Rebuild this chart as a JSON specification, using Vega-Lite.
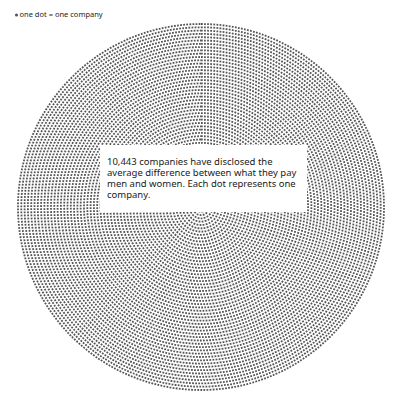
{
  "$schema": "https://vega.github.io/schema/vega-lite/v6.json",
  "width": 398,
  "height": 386,
  "autosize": "none",
  "padding": {"left": 2, "top": 14, "right": 0, "bottom": 0},
  "background": "white",
  "config": {"view": {"stroke": null}},
  "layer": [
    {
      "data": {"values": [
        {"r": 183.0}, {"r": 179.7}, {"r": 176.4}, {"r": 173.1}, {"r": 169.8}, {"r": 166.5}, {"r": 163.2}, {"r": 159.9},
        {"r": 156.6}, {"r": 153.3}, {"r": 150.0}, {"r": 146.7}, {"r": 143.4}, {"r": 140.1}, {"r": 136.8}, {"r": 133.5},
        {"r": 130.2}, {"r": 126.9}, {"r": 123.6}, {"r": 120.3}, {"r": 117.0}, {"r": 113.7}, {"r": 110.4}, {"r": 107.1},
        {"r": 103.8}, {"r": 100.5}, {"r": 97.2}, {"r": 93.9}, {"r": 90.6}, {"r": 87.3}, {"r": 84.0}, {"r": 80.7},
        {"r": 77.4}, {"r": 74.1}, {"r": 70.8}, {"r": 67.5}, {"r": 64.2}, {"r": 60.9}, {"r": 57.6}, {"r": 54.3},
        {"r": 51.0}, {"r": 47.7}, {"r": 44.4}, {"r": 41.1}, {"r": 37.8}, {"r": 34.5}, {"r": 31.2}, {"r": 27.9},
        {"r": 24.6}, {"r": 21.3}, {"r": 18.0}, {"r": 14.7}, {"r": 11.4}, {"r": 8.1}, {"r": 4.8}, {"r": 1.5}
      ]},
      "mark": {"type": "arc", "theta": 0, "theta2": 6.2832, "filled": false, "fill": null, "stroke": "#555555", "strokeWidth": 1.8, "strokeDash": [1.8, 1.3], "strokeCap": "butt"},
      "encoding": {
        "radius": {"field": "r", "type": "quantitative", "stack": null, "scale": {"type": "linear", "zero": true, "domain": [0, 183], "range": [0, 183]}}
      }
    },
    {
      "data": {"values": [{"x1": -101, "x2": 106, "y1": 62, "y2": -5}]},
      "mark": {"type": "rect", "fill": "white"},
      "encoding": {
        "x": {"field": "x1", "type": "quantitative", "scale": {"domain": [-199, 199], "nice": false, "zero": false}, "axis": null},
        "x2": {"field": "x2"},
        "y": {"field": "y1", "type": "quantitative", "scale": {"domain": [-193, 193], "nice": false, "zero": false}, "axis": null},
        "y2": {"field": "y2"}
      }
    },
    {
      "data": {"values": [
        {"x": -94, "y": 45.5, "t": ["10,443 companies have disclosed the", "average difference between what they pay", "men and women. Each dot represents one", "company."]}
      ]},
      "mark": {"type": "text", "align": "left", "baseline": "middle", "fontSize": 9.5, "lineHeight": 11, "font": "Noto Sans", "color": "#1a1a1a"},
      "encoding": {
        "x": {"field": "x", "type": "quantitative", "scale": {"domain": [-199, 199], "nice": false, "zero": false}, "axis": null},
        "y": {"field": "y", "type": "quantitative", "scale": {"domain": [-193, 193], "nice": false, "zero": false}, "axis": null},
        "text": {"field": "t"}
      }
    },
    {
      "data": {"values": [{"x": -184.5, "y": 192}]},
      "mark": {"type": "circle", "size": 10, "color": "#555555", "opacity": 1},
      "encoding": {
        "x": {"field": "x", "type": "quantitative", "scale": {"domain": [-199, 199], "nice": false, "zero": false}, "axis": null},
        "y": {"field": "y", "type": "quantitative", "scale": {"domain": [-193, 193], "nice": false, "zero": false}, "axis": null}
      }
    },
    {
      "data": {"values": [{"x": -181.5, "y": 192, "t": "one dot = one company"}]},
      "mark": {"type": "text", "align": "left", "baseline": "middle", "fontSize": 7.5, "font": "Noto Sans", "color": "#1a1a1a"},
      "encoding": {
        "x": {"field": "x", "type": "quantitative", "scale": {"domain": [-199, 199], "nice": false, "zero": false}, "axis": null},
        "y": {"field": "y", "type": "quantitative", "scale": {"domain": [-193, 193], "nice": false, "zero": false}, "axis": null},
        "text": {"field": "t"}
      }
    }
  ]
}
